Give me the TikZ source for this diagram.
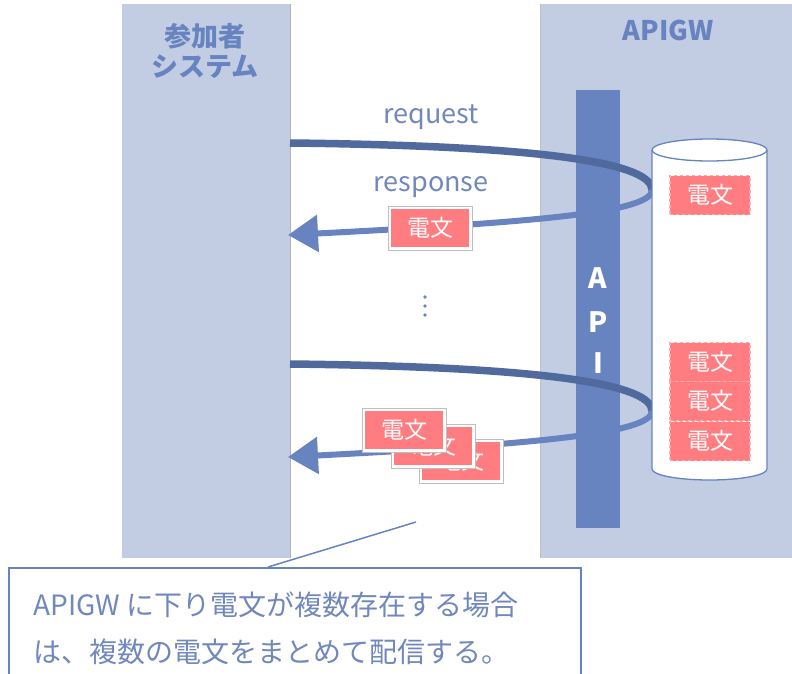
\documentclass[tikz,border=0pt]{standalone}
\usepackage{fontspec}
\setmainfont{Noto Sans CJK JP}
\usetikzlibrary{arrows.meta}
\definecolor{colbg}{RGB}{194,205,228}
\definecolor{apiblue}{RGB}{103,131,192}
\definecolor{reqblue}{RGB}{80,106,158}
\definecolor{txtblue}{RGB}{112,136,188}
\definecolor{msgred}{RGB}{255,124,128}
\definecolor{msgedge}{RGB}{255,168,168}
\tikzset{
  coltitle/.style={text=apiblue, font=\bfseries\fontsize{27}{30}\selectfont, align=center},
  reqline/.style={draw=reqblue, line width=7.5pt},
  resline/.style={draw=apiblue, line width=6pt, -{Triangle[length=30pt,width=36pt]}},
  msgbox/.style={fill=msgred, draw=msgedge, dashed, line width=1.2pt, text=white,
    minimum width=80pt, minimum height=39pt, inner sep=0pt, font=\fontsize{23}{23}\selectfont},
  msgcard/.style={fill=white, draw=black!25, line width=0.8pt, text=white,
    minimum width=84pt, minimum height=44pt, inner sep=0pt, font=\fontsize{23}{23}\selectfont,
    path picture={\fill[msgred] ([shift={(3pt,3pt)}]path picture bounding box.south west)
      rectangle ([shift={(-3pt,-3pt)}]path picture bounding box.north east);}},
  lbl/.style={text=txtblue, font=\fontsize{27}{27}\selectfont}
}
\begin{document}
\begin{tikzpicture}[x=1pt,y=-1pt]
\useasboundingbox (0,0) rectangle (792,674);
\clip (0,0) rectangle (792,674);
% columns
\fill[colbg] (122,4) rectangle (290,558);
\draw[black!30, line width=0.6pt] (290,4) -- (290,558);
\fill[colbg] (540,4) rectangle (792,558);
\draw[black!25, line width=0.6pt] (540,4) -- (540,558);
\node[coltitle] (sys) at (205,51) {参加者\\システム};
\node[coltitle] (gw) at (668,30) {APIGW};
% API bar
\fill[apiblue] (576,90) rectangle (620,528);
\foreach \ch/\y in {A/278, P/322, I/363}
  \node[text=white, font=\bfseries\fontsize{28}{28}\selectfont] (api\ch) at (598,\y) {\ch};
% loops
\coordinate (req1) at (290,143);
\coordinate (turn1) at (652,190);
\coordinate (res1) at (288,235);
\draw[reqline] (req1) .. controls +(270,3) and +(0,-25) .. (turn1);
\draw[resline] (turn1) .. controls +(0,22) and +(252,-13) .. (res1);
\coordinate (req2) at (290,364);
\coordinate (turn2) at (652,411);
\coordinate (res2) at (288,457);
\draw[reqline] (req2) .. controls +(270,3) and +(0,-25) .. (turn2);
\draw[resline] (turn2) .. controls +(0,22) and +(252,-13) .. (res2);
\node[lbl] (request) at (431,117) {request};
\node[lbl] (response) at (431,187) {response};
% store
\draw[apiblue, fill=white, line width=1.3pt] (652,150) -- (652,469)
  arc[start angle=180, end angle=0, x radius=57.5, y radius=11] -- (767,150);
\draw[apiblue, fill=white, line width=1.3pt] (709.5,150) ellipse[x radius=57.5, y radius=11];
\node[msgbox] (stored1) at (710,195) {電文};
\node[msgbox] (stored2) at (710,362) {電文};
\node[msgbox] (stored3) at (710,401) {電文};
\node[msgbox] (stored4) at (710,441) {電文};
% messages sent
\node[msgcard] (sent1) at (430,228) {電文};
\node[msgcard] (sent4) at (461,461) {電文};
\node[msgcard] (sent3) at (433,446) {電文};
\node[msgcard] (sent2) at (404,430) {電文};
% dots
\foreach \y in {297,306,315}
  \fill[apiblue] (425,\y) circle (1.8);
% note
\node[draw=apiblue, fill=white, line width=1.8pt, anchor=north west,
  minimum width=572pt, minimum height=130pt] (note) at (8,567) {};
\node[text=txtblue, anchor=west, align=left, font=\fontsize{28}{47}\selectfont] (notetext) at (30,628)
  {APIGW に下り電文が複数存在する場合\\は、複数の電文をまとめて配信する。};
\coordinate (ptr) at (416,522);
\coordinate (notetip) at (268,567);
\draw[apiblue, line width=1.5pt] (ptr) -- (notetip);
\end{tikzpicture}
\end{document}
